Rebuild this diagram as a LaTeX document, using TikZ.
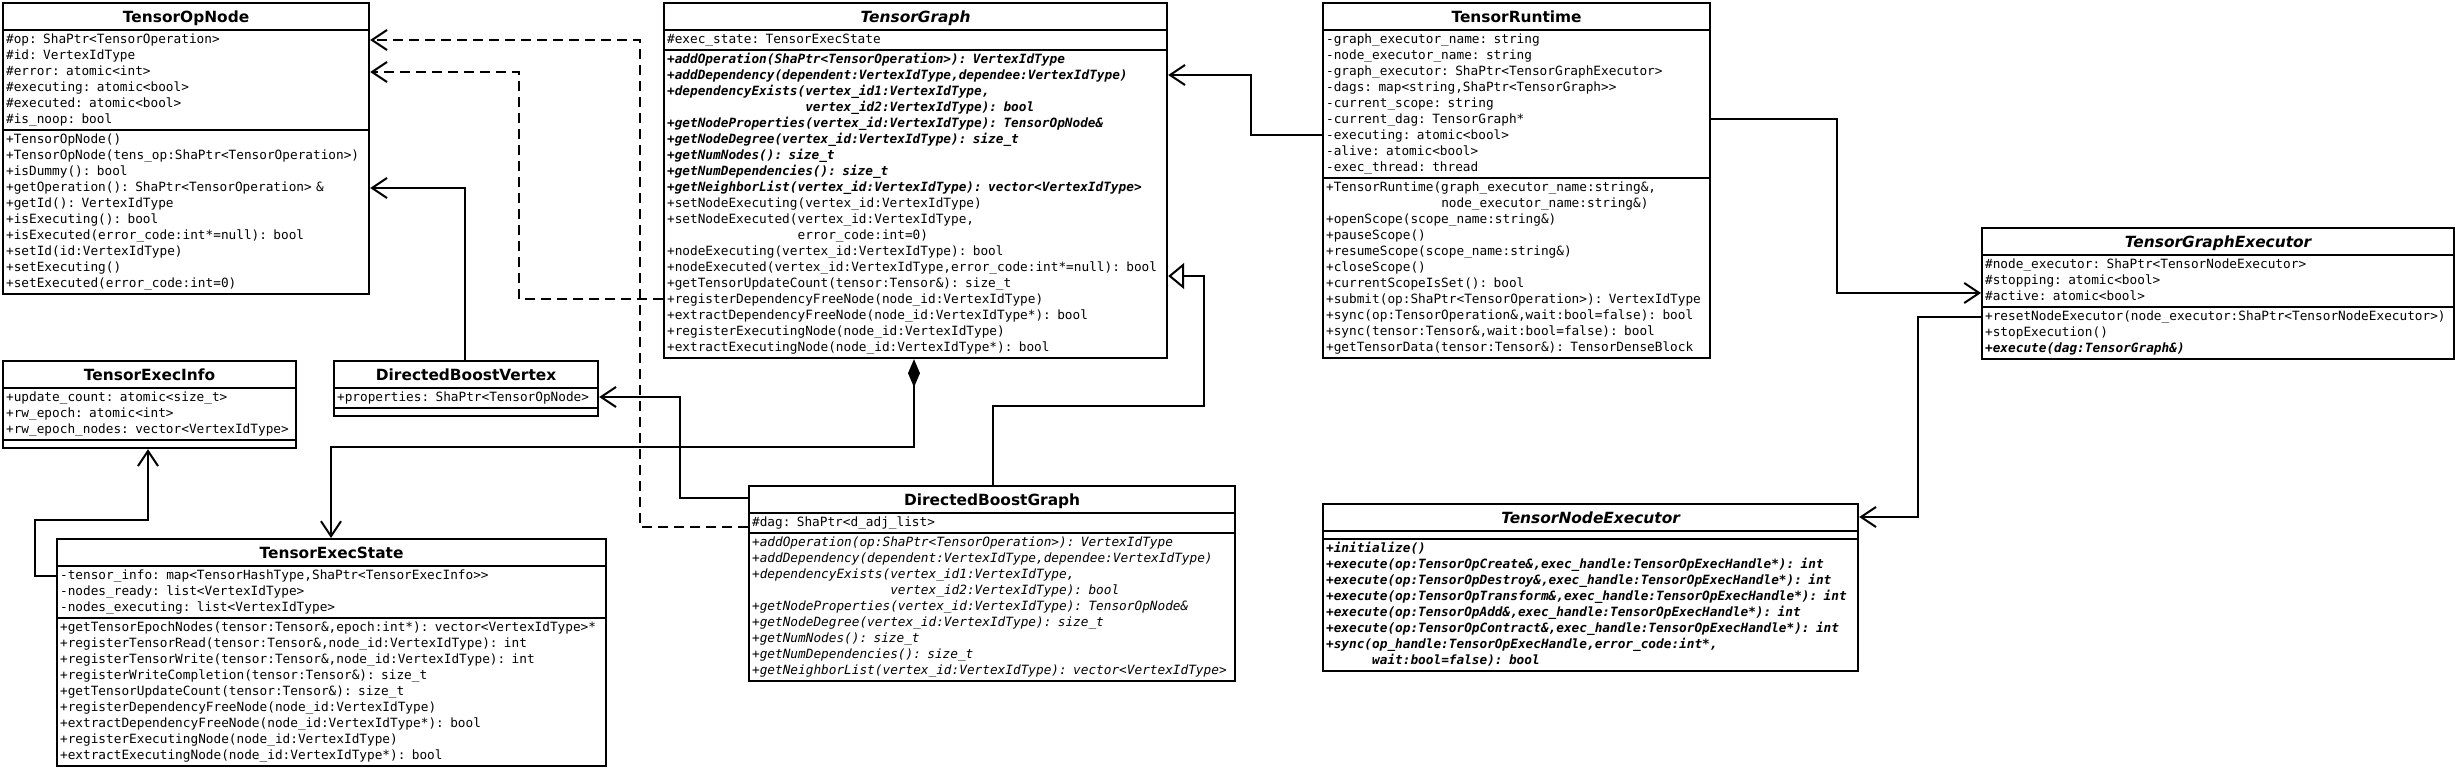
\documentclass[tikz,border=0pt]{standalone}
\usepackage{fontspec}
\setmainfont{DejaVu Sans}
\setmonofont{DejaVu Sans Mono}
\usepackage{tikz}
\usetikzlibrary{shapes.multipart,arrows.meta}

\newcommand{\umlfont}{\fontsize{12.75}{16}\selectfont\ttfamily}
\newcommand{\cname}[1]{\makebox[\linewidth][c]{\rule[-6pt]{0pt}{23pt}\rmfamily\fontsize{15.4}{18}\selectfont\bfseries #1}}
\newcommand{\aname}[1]{\cname{\itshape #1}}
\newcommand{\nosec}{\rule{0pt}{4pt}}

\begin{document}
\begin{tikzpicture}[x=1pt,y=-1pt,
  umlclass/.style={rectangle split,rectangle split parts=3,draw,line width=2.2pt,anchor=north west,inner xsep=3pt,inner ysep=0.9pt,align=left,font=\umlfont},
  assoc/.style={line width=2pt,-{Straight Barb[length=15pt,width=20pt]}},
  depend/.style={assoc,dash pattern=on 10pt off 6pt},
  inherit/.style={line width=2pt,-{Triangle[open,length=16pt,width=26pt]}},
  compo/.style={line width=2pt,{Diamond[length=28pt,width=12pt]}-{Straight Barb[length=15pt,width=20pt]}}]
\useasboundingbox (0,0) rectangle (2455,768);

\node[umlclass,text width=360pt] (1) at (2,2) {\cname{TensorOpNode}
\nodepart{two}\strut\#op: ShaPtr<TensorOperation>\\
\#id: VertexIdType\\
\#error: atomic<int>\\
\#executing: atomic<bool>\\
\#executed: atomic<bool>\\
\#is\_noop: bool\strut
\nodepart{three}\strut+TensorOpNode()\\
+TensorOpNode(tens\_op:ShaPtr<TensorOperation>)\\
+isDummy(): bool\\
+getOperation(): ShaPtr<TensorOperation> \&\\
+getId(): VertexIdType\\
+isExecuting(): bool\\
+isExecuted(error\_code:int*=null): bool\\
+setId(id:VertexIdType)\\
+setExecuting()\\
+setExecuted(error\_code:int=0)\strut};

\node[umlclass,text width=497pt] (2) at (663,2) {\aname{TensorGraph}
\nodepart{two}\strut\#exec\_state: TensorExecState\strut
\nodepart{three}\bfseries\itshape\strut+addOperation(ShaPtr<TensorOperation>): VertexIdType\\
+addDependency(dependent:VertexIdType,dependee:VertexIdType)\\
+dependencyExists(vertex\_id1:VertexIdType,\\
\hphantom{+dependencyExists(}vertex\_id2:VertexIdType): bool\\
+getNodeProperties(vertex\_id:VertexIdType): TensorOpNode\&\\
+getNodeDegree(vertex\_id:VertexIdType): size\_t\\
+getNumNodes(): size\_t\\
+getNumDependencies(): size\_t\\
+getNeighborList(vertex\_id:VertexIdType): vector<VertexIdType>\\
\mdseries\upshape+setNodeExecuting(vertex\_id:VertexIdType)\\
+setNodeExecuted(vertex\_id:VertexIdType,\\
\hphantom{+setNodeExecuted(}error\_code:int=0)\\
+nodeExecuting(vertex\_id:VertexIdType): bool\\
+nodeExecuted(vertex\_id:VertexIdType,error\_code:int*=null): bool\\
+getTensorUpdateCount(tensor:Tensor\&): size\_t\\
+registerDependencyFreeNode(node\_id:VertexIdType)\\
+extractDependencyFreeNode(node\_id:VertexIdType*): bool\\
+registerExecutingNode(node\_id:VertexIdType)\\
+extractExecutingNode(node\_id:VertexIdType*): bool\strut};

\node[umlclass,text width=381pt] (3) at (1322,2) {\cname{TensorRuntime}
\nodepart{two}\strut-graph\_executor\_name: string\\
-node\_executor\_name: string\\
-graph\_executor: ShaPtr<TensorGraphExecutor>\\
-dags: map<string,ShaPtr<TensorGraph>{}>\\
-current\_scope: string\\
-current\_dag: TensorGraph*\\
-executing: atomic<bool>\\
-alive: atomic<bool>\\
-exec\_thread: thread\strut
\nodepart{three}\strut+TensorRuntime(graph\_executor\_name:string\&,\\
\hphantom{+TensorRuntime(}node\_executor\_name:string\&)\\
+openScope(scope\_name:string\&)\\
+pauseScope()\\
+resumeScope(scope\_name:string\&)\\
+closeScope()\\
+currentScopeIsSet(): bool\\
+submit(op:ShaPtr<TensorOperation>): VertexIdType\\
+sync(op:TensorOperation\&,wait:bool=false): bool\\
+sync(tensor:Tensor\&,wait:bool=false): bool\\
+getTensorData(tensor:Tensor\&): TensorDenseBlock\strut};

\node[umlclass,text width=466pt] (4) at (1981,227) {\aname{TensorGraphExecutor}
\nodepart{two}\strut\#node\_executor: ShaPtr<TensorNodeExecutor>\\
\#stopping: atomic<bool>\\
\#active: atomic<bool>\strut
\nodepart{three}\strut+resetNodeExecutor(node\_executor:ShaPtr<TensorNodeExecutor>)\\
+stopExecution()\\
{\bfseries\itshape +execute(dag:TensorGraph\&)}\strut};

\node[umlclass,text width=287pt] (5) at (2,360) {\cname{TensorExecInfo}
\nodepart{two}\strut+update\_count: atomic<size\_t>\\
+rw\_epoch: atomic<int>\\
+rw\_epoch\_nodes: vector<VertexIdType>\strut
\nodepart{three}\nosec};

\node[umlclass,text width=258pt] (6) at (333,360) {\cname{DirectedBoostVertex}
\nodepart{two}\strut+properties: ShaPtr<TensorOpNode>\strut
\nodepart{three}\nosec};

\node[umlclass,text width=543pt] (7) at (56,538) {\cname{TensorExecState}
\nodepart{two}\strut-tensor\_info: map<TensorHashType,ShaPtr<TensorExecInfo>{}>\\
-nodes\_ready: list<VertexIdType>\\
-nodes\_executing: list<VertexIdType>\strut
\nodepart{three}\strut+getTensorEpochNodes(tensor:Tensor\&,epoch:int*): vector<VertexIdType>*\\
+registerTensorRead(tensor:Tensor\&,node\_id:VertexIdType): int\\
+registerTensorWrite(tensor:Tensor\&,node\_id:VertexIdType): int\\
+registerWriteCompletion(tensor:Tensor\&): size\_t\\
+getTensorUpdateCount(tensor:Tensor\&): size\_t\\
+registerDependencyFreeNode(node\_id:VertexIdType)\\
+extractDependencyFreeNode(node\_id:VertexIdType*): bool\\
+registerExecutingNode(node\_id:VertexIdType)\\
+extractExecutingNode(node\_id:VertexIdType*): bool\strut};

\node[umlclass,text width=480pt] (8) at (748,485) {\cname{DirectedBoostGraph}
\nodepart{two}\strut\#dag: ShaPtr<d\_adj\_list>\strut
\nodepart{three}\itshape\strut+addOperation(op:ShaPtr<TensorOperation>): VertexIdType\\
+addDependency(dependent:VertexIdType,dependee:VertexIdType)\\
+dependencyExists(vertex\_id1:VertexIdType,\\
\hphantom{+dependencyExists(}vertex\_id2:VertexIdType): bool\\
+getNodeProperties(vertex\_id:VertexIdType): TensorOpNode\&\\
+getNodeDegree(vertex\_id:VertexIdType): size\_t\\
+getNumNodes(): size\_t\\
+getNumDependencies(): size\_t\\
+getNeighborList(vertex\_id:VertexIdType): vector<VertexIdType>\strut};

\node[umlclass,text width=529pt] (9) at (1322,503) {\aname{TensorNodeExecutor}
\nodepart{two}\nosec
\nodepart{three}\bfseries\itshape\strut+initialize()\\
+execute(op:TensorOpCreate\&,exec\_handle:TensorOpExecHandle*): int\\
+execute(op:TensorOpDestroy\&,exec\_handle:TensorOpExecHandle*): int\\
+execute(op:TensorOpTransform\&,exec\_handle:TensorOpExecHandle*): int\\
+execute(op:TensorOpAdd\&,exec\_handle:TensorOpExecHandle*): int\\
+execute(op:TensorOpContract\&,exec\_handle:TensorOpExecHandle*): int\\
+sync(op\_handle:TensorOpExecHandle,error\_code:int*,\\
\hphantom{+sync(}wait:bool=false): bool\strut};

\draw[assoc] (3.west |- 0,135) -- (1251,135) |- (2.east |- 0,75);
\draw[assoc] (3.east |- 0,119) -- (1837,119) |- (4.west |- 0,293);
\draw[assoc] (4.west |- 0,317) -- (1918,317) |- (9.east |- 0,517);
\draw[compo] (2.south -| 914,0) -- (914,447) -| (7.north -| 331,0);
\draw[assoc] (6.north -| 465,0) |- (1.east |- 0,188);
\draw[assoc] (8.west |- 0,498) -- (680,498) |- (6.east |- 0,397);
\draw[inherit] (8.north -| 993,0) |- (1204,406) |- (2.east |- 0,276);
\draw[depend] (8.west |- 0,527) -- (640,527) |- (1.east |- 0,40);
\draw[depend] (2.west |- 0,299) -- (519,299) |- (1.east |- 0,72);
\draw[assoc] (7.west |- 0,576) -- (35,576) |- (148,520) -- (5.south -| 148,0);
\end{tikzpicture}
\end{document}
